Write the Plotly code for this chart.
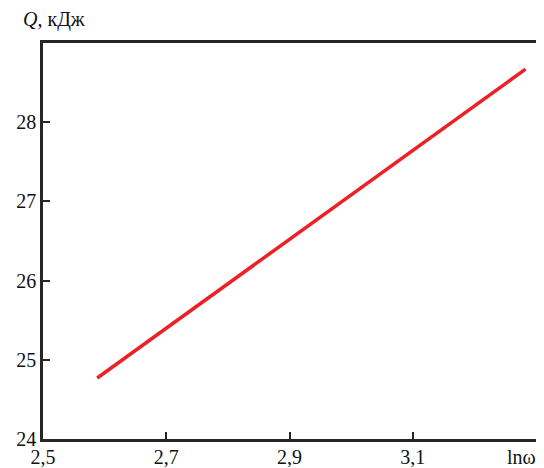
import plotly.graph_objects as go

x_vals = [2.588, 3.283]
q_vals = [24.77, 28.67]
x_tickvals = [2.5, 2.7, 2.9, 3.1]
x_ticktext = ["2,5", "2,7", "2,9", "3,1"]
x_axis_name = "lnω"
y_tickvals = [24, 25, 26, 27, 28]
y_ticktext = ["24", "25", "26", "27", "28"]

fig = go.Figure()
fig.add_trace(go.Scatter(x=x_vals, y=q_vals, mode="lines",
                         line=dict(color="#ec2127", width=3.5), showlegend=False))

font = dict(family="Liberation Serif, Times New Roman, serif", size=20, color="#111")
axis_common = dict(showline=True, linecolor="#262626", linewidth=2.5, mirror=True,
                   ticks="inside", ticklen=7, tickwidth=2, tickcolor="#262626",
                   showgrid=False, zeroline=False, tickfont=font, automargin=False,
                   ticklabeloverflow="allow")
fig.update_xaxes(range=[2.5, 3.3], tickvals=x_tickvals, ticktext=x_ticktext,
                 ticklabelstandoff=-2, **axis_common)
fig.update_yaxes(range=[24, 29], tickvals=y_tickvals, ticktext=y_ticktext, **axis_common)

fig.add_annotation(text="<i>Q</i>, кДж", xref="paper", yref="paper", x=-0.045, y=1.025,
                   xanchor="left", yanchor="bottom", showarrow=False, font=font)
fig.add_annotation(text=x_axis_name, xref="paper", yref="paper", x=1.005, y=-0.012,
                   xanchor="right", yanchor="top", showarrow=False, font=font)

fig.update_layout(width=536, height=460, margin=dict(l=35, r=8, t=35, b=29),
                  plot_bgcolor="white", paper_bgcolor="white")
fig.write_html("out.html")
